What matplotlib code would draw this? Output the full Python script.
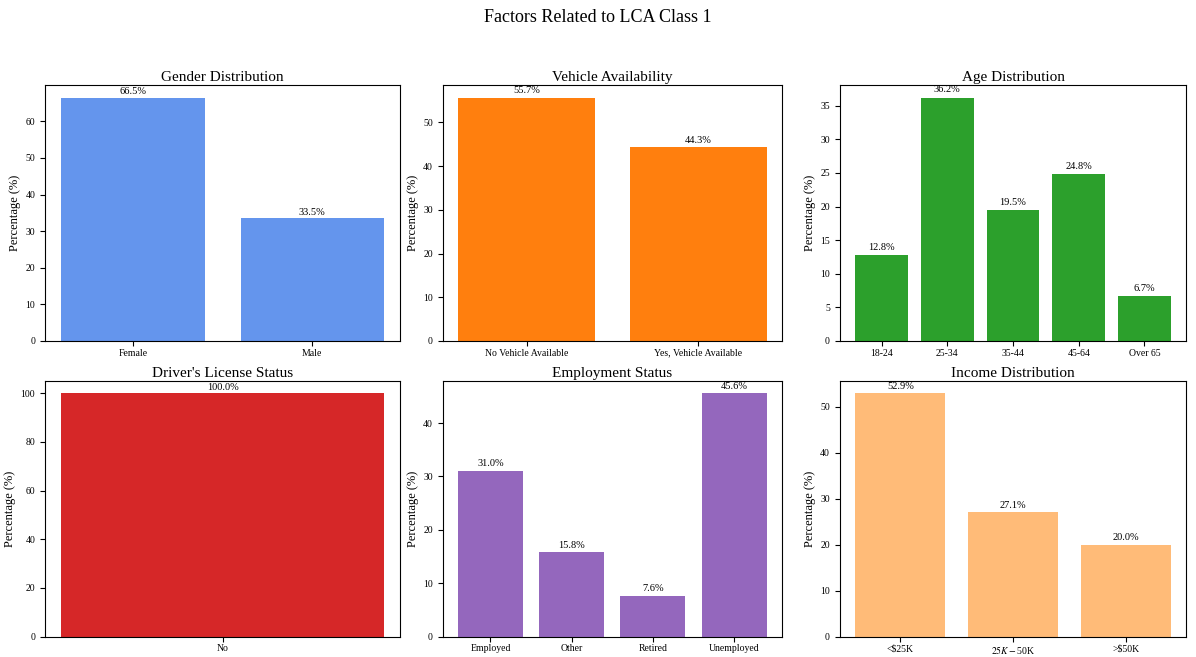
import matplotlib
matplotlib.use("Agg")
import matplotlib.pyplot as plt

plt.rcParams['font.family'] = ['Liberation Serif', 'DejaVu Serif']
plt.rcParams['mathtext.fontset'] = 'stix'

# Données
gender_labels = ['Female', 'Male']
gender_values = [66.5, 33.5]

vehicle_labels = ['No Vehicle Available', 'Yes, Vehicle Available']
vehicle_values = [55.7, 44.3]

age_labels = ['18-24', '25-34', '35-44', '45-64', 'Over 65']
age_values = [12.8, 36.2, 19.5, 24.8, 6.7]

license_labels = ['No']
license_values = [100.0]

employment_labels = ['Employed', 'Other', 'Retired', 'Unemployed']
employment_values = [31.0, 15.8, 7.6, 45.6]

income_labels = ['<$25K', '$25K - $50K', '>$50K']
income_values = [52.9, 27.1, 20.0]

panels = [
    ('Gender Distribution', gender_labels, gender_values, '#6495ed'),
    ('Vehicle Availability', vehicle_labels, vehicle_values, '#ff7f0e'),
    ('Age Distribution', age_labels, age_values, '#2ca02c'),
    ("Driver's License Status", license_labels, license_values, '#d62728'),
    ('Employment Status', employment_labels, employment_values, '#9467bd'),
    ('Income Distribution', income_labels, income_values, '#ffbb78'),
]

fig = plt.figure(figsize=(11.96, 6.57), dpi=100)

# positions des axes (fraction de la figure)
lefts = [0.0376, 0.370, 0.702]
widths = [0.297, 0.284, 0.290]
bottoms = [0.481, 0.031]
height = 0.389

for i, (title, labels, values, color) in enumerate(panels):
    row, col = divmod(i, 3)
    ax = fig.add_axes([lefts[col], bottoms[row], widths[col], height])
    x = range(len(labels))
    bars = ax.bar(x, values, color=color, width=0.8)
    ax.set_xticks(list(x))
    ax.set_xticklabels(labels, fontsize=7)
    ax.tick_params(axis='x', pad=2)
    ax.tick_params(axis='y', labelsize=7)
    ax.set_title(title, fontsize=11, pad=3)
    ax.set_ylabel('Percentage (%)', fontsize=9, labelpad=3)
    for b, v in zip(bars, values):
        ax.text(b.get_x() + b.get_width() / 2, v + 0.5, f'{v:.1f}%',
                ha='center', va='bottom', fontsize=7.5)

fig.suptitle('Factors Related to LCA Class 1', fontsize=13, y=0.986)
plt.savefig('out.png', dpi=100)
